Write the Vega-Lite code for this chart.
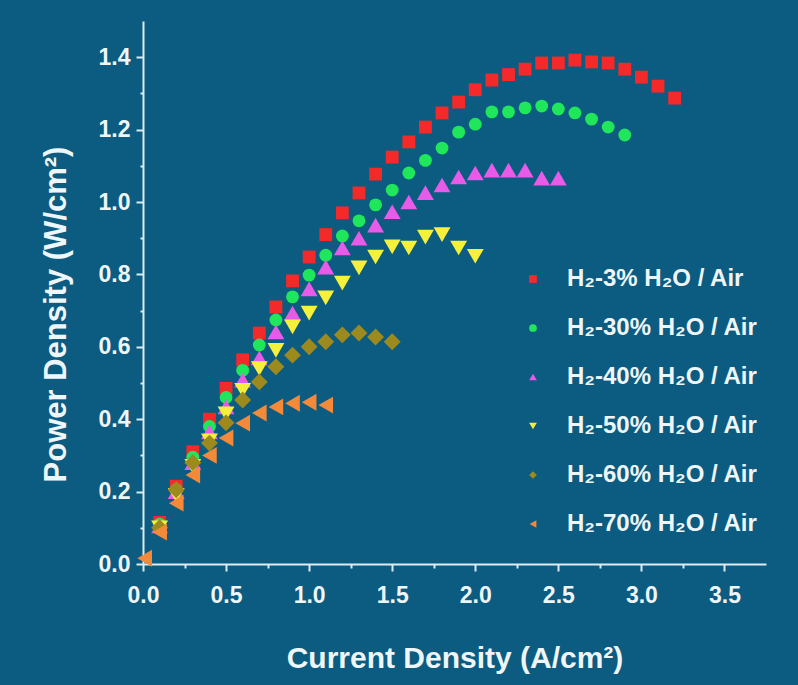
{
  "$schema": "https://vega.github.io/schema/vega-lite/v6.json",
  "width": 623,
  "height": 543,
  "autosize": {"type": "none"},
  "padding": {"left": 143, "top": 21, "right": 32, "bottom": 121},
  "background": "#0c5b80",
  "config": {
    "view": {"stroke": null},
    "font": "Liberation Sans, Arial, sans-serif",
    "axis": {
      "grid": false,
      "domainColor": "#dcecf3",
      "domainWidth": 2,
      "tickColor": "#dcecf3",
      "tickWidth": 2,
      "labelColor": "#eef6fa",
      "labelFont": "Liberation Sans, Arial, sans-serif",
      "labelFontWeight": "bold",
      "labelFontSize": 23,
      "titleColor": "#eef6fa",
      "titleFont": "Liberation Sans, Arial, sans-serif",
      "titleFontWeight": "bold",
      "titleFontSize": 30
    },
    "legend": {
      "labelColor": "#eef6fa",
      "labelFont": "Liberation Sans, Arial, sans-serif",
      "labelFontWeight": "bold",
      "labelFontSize": 24,
      "labelLimit": 0
    }
  },
  "datasets": {
    "pd": [
      {"series": "H₂-3% H₂O / Air", "j": 0.1, "p": 0.115},
      {"series": "H₂-3% H₂O / Air", "j": 0.2, "p": 0.215},
      {"series": "H₂-3% H₂O / Air", "j": 0.3, "p": 0.31},
      {"series": "H₂-3% H₂O / Air", "j": 0.4, "p": 0.4},
      {"series": "H₂-3% H₂O / Air", "j": 0.5, "p": 0.485},
      {"series": "H₂-3% H₂O / Air", "j": 0.6, "p": 0.564},
      {"series": "H₂-3% H₂O / Air", "j": 0.7, "p": 0.638},
      {"series": "H₂-3% H₂O / Air", "j": 0.8, "p": 0.71},
      {"series": "H₂-3% H₂O / Air", "j": 0.9, "p": 0.782},
      {"series": "H₂-3% H₂O / Air", "j": 1.0, "p": 0.848},
      {"series": "H₂-3% H₂O / Air", "j": 1.1, "p": 0.91},
      {"series": "H₂-3% H₂O / Air", "j": 1.2, "p": 0.97},
      {"series": "H₂-3% H₂O / Air", "j": 1.3, "p": 1.025},
      {"series": "H₂-3% H₂O / Air", "j": 1.4, "p": 1.077},
      {"series": "H₂-3% H₂O / Air", "j": 1.5, "p": 1.124},
      {"series": "H₂-3% H₂O / Air", "j": 1.6, "p": 1.166},
      {"series": "H₂-3% H₂O / Air", "j": 1.7, "p": 1.207},
      {"series": "H₂-3% H₂O / Air", "j": 1.8, "p": 1.246},
      {"series": "H₂-3% H₂O / Air", "j": 1.9, "p": 1.276},
      {"series": "H₂-3% H₂O / Air", "j": 2.0, "p": 1.31},
      {"series": "H₂-3% H₂O / Air", "j": 2.1, "p": 1.337},
      {"series": "H₂-3% H₂O / Air", "j": 2.2, "p": 1.352},
      {"series": "H₂-3% H₂O / Air", "j": 2.3, "p": 1.367},
      {"series": "H₂-3% H₂O / Air", "j": 2.4, "p": 1.384},
      {"series": "H₂-3% H₂O / Air", "j": 2.5, "p": 1.384},
      {"series": "H₂-3% H₂O / Air", "j": 2.6, "p": 1.392},
      {"series": "H₂-3% H₂O / Air", "j": 2.7, "p": 1.387},
      {"series": "H₂-3% H₂O / Air", "j": 2.8, "p": 1.384},
      {"series": "H₂-3% H₂O / Air", "j": 2.9, "p": 1.367},
      {"series": "H₂-3% H₂O / Air", "j": 3.0, "p": 1.345},
      {"series": "H₂-3% H₂O / Air", "j": 3.1, "p": 1.32},
      {"series": "H₂-3% H₂O / Air", "j": 3.2, "p": 1.287},
      {"series": "H₂-30% H₂O / Air", "j": 0.1, "p": 0.11},
      {"series": "H₂-30% H₂O / Air", "j": 0.2, "p": 0.205},
      {"series": "H₂-30% H₂O / Air", "j": 0.3, "p": 0.295},
      {"series": "H₂-30% H₂O / Air", "j": 0.4, "p": 0.38},
      {"series": "H₂-30% H₂O / Air", "j": 0.5, "p": 0.46},
      {"series": "H₂-30% H₂O / Air", "j": 0.6, "p": 0.535},
      {"series": "H₂-30% H₂O / Air", "j": 0.7, "p": 0.605},
      {"series": "H₂-30% H₂O / Air", "j": 0.8, "p": 0.674},
      {"series": "H₂-30% H₂O / Air", "j": 0.9, "p": 0.738},
      {"series": "H₂-30% H₂O / Air", "j": 1.0, "p": 0.798},
      {"series": "H₂-30% H₂O / Air", "j": 1.1, "p": 0.853},
      {"series": "H₂-30% H₂O / Air", "j": 1.2, "p": 0.906},
      {"series": "H₂-30% H₂O / Air", "j": 1.3, "p": 0.948},
      {"series": "H₂-30% H₂O / Air", "j": 1.4, "p": 0.992},
      {"series": "H₂-30% H₂O / Air", "j": 1.5, "p": 1.033},
      {"series": "H₂-30% H₂O / Air", "j": 1.6, "p": 1.08},
      {"series": "H₂-30% H₂O / Air", "j": 1.7, "p": 1.115},
      {"series": "H₂-30% H₂O / Air", "j": 1.8, "p": 1.149},
      {"series": "H₂-30% H₂O / Air", "j": 1.9, "p": 1.193},
      {"series": "H₂-30% H₂O / Air", "j": 2.0, "p": 1.215},
      {"series": "H₂-30% H₂O / Air", "j": 2.1, "p": 1.249},
      {"series": "H₂-30% H₂O / Air", "j": 2.2, "p": 1.249},
      {"series": "H₂-30% H₂O / Air", "j": 2.3, "p": 1.26},
      {"series": "H₂-30% H₂O / Air", "j": 2.4, "p": 1.265},
      {"series": "H₂-30% H₂O / Air", "j": 2.5, "p": 1.257},
      {"series": "H₂-30% H₂O / Air", "j": 2.6, "p": 1.246},
      {"series": "H₂-30% H₂O / Air", "j": 2.7, "p": 1.229},
      {"series": "H₂-30% H₂O / Air", "j": 2.8, "p": 1.207},
      {"series": "H₂-30% H₂O / Air", "j": 2.9, "p": 1.185},
      {"series": "H₂-40% H₂O / Air", "j": 0.1, "p": 0.105},
      {"series": "H₂-40% H₂O / Air", "j": 0.2, "p": 0.2},
      {"series": "H₂-40% H₂O / Air", "j": 0.3, "p": 0.28},
      {"series": "H₂-40% H₂O / Air", "j": 0.4, "p": 0.365},
      {"series": "H₂-40% H₂O / Air", "j": 0.5, "p": 0.434},
      {"series": "H₂-40% H₂O / Air", "j": 0.6, "p": 0.508},
      {"series": "H₂-40% H₂O / Air", "j": 0.7, "p": 0.569},
      {"series": "H₂-40% H₂O / Air", "j": 0.8, "p": 0.641},
      {"series": "H₂-40% H₂O / Air", "j": 0.9, "p": 0.693},
      {"series": "H₂-40% H₂O / Air", "j": 1.0, "p": 0.76},
      {"series": "H₂-40% H₂O / Air", "j": 1.1, "p": 0.82},
      {"series": "H₂-40% H₂O / Air", "j": 1.2, "p": 0.873},
      {"series": "H₂-40% H₂O / Air", "j": 1.3, "p": 0.9},
      {"series": "H₂-40% H₂O / Air", "j": 1.4, "p": 0.936},
      {"series": "H₂-40% H₂O / Air", "j": 1.5, "p": 0.973},
      {"series": "H₂-40% H₂O / Air", "j": 1.6, "p": 1.0},
      {"series": "H₂-40% H₂O / Air", "j": 1.7, "p": 1.026},
      {"series": "H₂-40% H₂O / Air", "j": 1.8, "p": 1.047},
      {"series": "H₂-40% H₂O / Air", "j": 1.9, "p": 1.069},
      {"series": "H₂-40% H₂O / Air", "j": 2.0, "p": 1.08},
      {"series": "H₂-40% H₂O / Air", "j": 2.1, "p": 1.088},
      {"series": "H₂-40% H₂O / Air", "j": 2.2, "p": 1.088},
      {"series": "H₂-40% H₂O / Air", "j": 2.3, "p": 1.088},
      {"series": "H₂-40% H₂O / Air", "j": 2.4, "p": 1.066},
      {"series": "H₂-40% H₂O / Air", "j": 2.5, "p": 1.066},
      {"series": "H₂-50% H₂O / Air", "j": 0.1, "p": 0.1},
      {"series": "H₂-50% H₂O / Air", "j": 0.2, "p": 0.19},
      {"series": "H₂-50% H₂O / Air", "j": 0.3, "p": 0.27},
      {"series": "H₂-50% H₂O / Air", "j": 0.4, "p": 0.34},
      {"series": "H₂-50% H₂O / Air", "j": 0.5, "p": 0.415},
      {"series": "H₂-50% H₂O / Air", "j": 0.6, "p": 0.48},
      {"series": "H₂-50% H₂O / Air", "j": 0.7, "p": 0.54},
      {"series": "H₂-50% H₂O / Air", "j": 0.8, "p": 0.59},
      {"series": "H₂-50% H₂O / Air", "j": 0.9, "p": 0.655},
      {"series": "H₂-50% H₂O / Air", "j": 1.0, "p": 0.693},
      {"series": "H₂-50% H₂O / Air", "j": 1.1, "p": 0.735},
      {"series": "H₂-50% H₂O / Air", "j": 1.2, "p": 0.776},
      {"series": "H₂-50% H₂O / Air", "j": 1.3, "p": 0.818},
      {"series": "H₂-50% H₂O / Air", "j": 1.4, "p": 0.848},
      {"series": "H₂-50% H₂O / Air", "j": 1.5, "p": 0.876},
      {"series": "H₂-50% H₂O / Air", "j": 1.6, "p": 0.873},
      {"series": "H₂-50% H₂O / Air", "j": 1.7, "p": 0.903},
      {"series": "H₂-50% H₂O / Air", "j": 1.8, "p": 0.91},
      {"series": "H₂-50% H₂O / Air", "j": 1.9, "p": 0.873},
      {"series": "H₂-50% H₂O / Air", "j": 2.0, "p": 0.85},
      {"series": "H₂-60% H₂O / Air", "j": 0.1, "p": 0.1},
      {"series": "H₂-60% H₂O / Air", "j": 0.2, "p": 0.205},
      {"series": "H₂-60% H₂O / Air", "j": 0.3, "p": 0.28},
      {"series": "H₂-60% H₂O / Air", "j": 0.4, "p": 0.334},
      {"series": "H₂-60% H₂O / Air", "j": 0.5, "p": 0.39},
      {"series": "H₂-60% H₂O / Air", "j": 0.6, "p": 0.453},
      {"series": "H₂-60% H₂O / Air", "j": 0.7, "p": 0.503},
      {"series": "H₂-60% H₂O / Air", "j": 0.8, "p": 0.545},
      {"series": "H₂-60% H₂O / Air", "j": 0.9, "p": 0.577},
      {"series": "H₂-60% H₂O / Air", "j": 1.0, "p": 0.6},
      {"series": "H₂-60% H₂O / Air", "j": 1.1, "p": 0.614},
      {"series": "H₂-60% H₂O / Air", "j": 1.2, "p": 0.633},
      {"series": "H₂-60% H₂O / Air", "j": 1.3, "p": 0.638},
      {"series": "H₂-60% H₂O / Air", "j": 1.4, "p": 0.627},
      {"series": "H₂-60% H₂O / Air", "j": 1.5, "p": 0.614},
      {"series": "H₂-70% H₂O / Air", "j": 0.01, "p": 0.016},
      {"series": "H₂-70% H₂O / Air", "j": 0.1, "p": 0.088},
      {"series": "H₂-70% H₂O / Air", "j": 0.2, "p": 0.168},
      {"series": "H₂-70% H₂O / Air", "j": 0.3, "p": 0.246},
      {"series": "H₂-70% H₂O / Air", "j": 0.4, "p": 0.3},
      {"series": "H₂-70% H₂O / Air", "j": 0.5, "p": 0.348},
      {"series": "H₂-70% H₂O / Air", "j": 0.6, "p": 0.389},
      {"series": "H₂-70% H₂O / Air", "j": 0.7, "p": 0.417},
      {"series": "H₂-70% H₂O / Air", "j": 0.8, "p": 0.434},
      {"series": "H₂-70% H₂O / Air", "j": 0.9, "p": 0.444},
      {"series": "H₂-70% H₂O / Air", "j": 1.0, "p": 0.447},
      {"series": "H₂-70% H₂O / Air", "j": 1.1, "p": 0.439}
    ]
  },
  "data": {"name": "pd"},
  "encoding": {
    "x": {
      "field": "j",
      "type": "quantitative",
      "scale": {"domain": [0, 3.75], "nice": false, "zero": false},
      "axis": {
        "values": [0, 0.25, 0.5, 0.75, 1, 1.25, 1.5, 1.75, 2, 2.25, 2.5, 2.75, 3, 3.25, 3.5],
        "format": ".1f",
        "labelExpr": "abs(datum.value * 2 - round(datum.value * 2)) < 0.001 ? datum.label : ''",
        "tickSize": {"condition": {"test": "abs(datum.value * 2 - round(datum.value * 2)) < 0.001", "value": 7}, "value": 4},
        "labelPadding": 13,
        "labelFlush": false,
        "labelOverlap": false,
        "title": "Current Density (A/cm²)",
        "titlePadding": 36
      }
    },
    "y": {
      "field": "p",
      "type": "quantitative",
      "scale": {"domain": [0, 1.5], "nice": false},
      "axis": {
        "values": [0, 0.1, 0.2, 0.3, 0.4, 0.5, 0.6, 0.7, 0.8, 0.9, 1.0, 1.1, 1.2, 1.3, 1.4],
        "format": ".1f",
        "labelExpr": "round(datum.value * 10) % 2 === 0 ? datum.label : ''",
        "tickSize": {"condition": {"test": "round(datum.value * 10) % 2 === 0", "value": 7}, "value": 3},
        "labelPadding": 6,
        "labelFlush": false,
        "labelOverlap": false,
        "title": "Power Density (W/cm²)",
        "titleFontSize": 31,
        "titleX": -87,
        "titleY": 293,
        "titleAngle": -90,
        "titleAlign": "center",
        "titleBaseline": "middle"
      }
    },
    "color": {
      "field": "series",
      "type": "nominal",
      "sort": null,
      "scale": {
        "domain": ["H₂-3% H₂O / Air", "H₂-30% H₂O / Air", "H₂-40% H₂O / Air", "H₂-50% H₂O / Air", "H₂-60% H₂O / Air", "H₂-70% H₂O / Air"],
        "range": ["#f42a2a", "#1fe65a", "#e85ae8", "#f5f03c", "#9c8a1e", "#f28a3a"]
      },
      "legend": {
        "title": null,
        "orient": "none",
        "legendX": 378,
        "legendY": 246,
        "padding": 0,
        "symbolSize": 60,
        "labelOffset": 22,
        "rowPadding": 25
      }
    },
    "shape": {
      "field": "series",
      "type": "nominal",
      "sort": null,
      "scale": {
        "domain": ["H₂-3% H₂O / Air", "H₂-30% H₂O / Air", "H₂-40% H₂O / Air", "H₂-50% H₂O / Air", "H₂-60% H₂O / Air", "H₂-70% H₂O / Air"],
        "range": ["square", "circle", "triangle-up", "triangle-down", "diamond", "triangle-left"]
      },
      "legend": {
        "title": null,
        "orient": "none",
        "legendX": 378,
        "legendY": 246,
        "padding": 0,
        "symbolSize": 60,
        "labelOffset": 22,
        "rowPadding": 25
      }
    }
  },
  "layer": [
    {
      "transform": [{"filter": "indexof(['H₂-3% H₂O / Air', 'H₂-30% H₂O / Air'], datum.series) >= 0"}],
      "mark": {"type": "point", "filled": true, "opacity": 1, "size": 165}
    },
    {
      "transform": [{"filter": "indexof(['H₂-3% H₂O / Air', 'H₂-30% H₂O / Air'], datum.series) < 0"}],
      "mark": {"type": "point", "filled": true, "opacity": 1, "size": 285}
    },
    {
      "data": {"values": [{}]},
      "mark": {"type": "text", "align": "left", "baseline": "alphabetic", "fontSize": 23, "fontWeight": "bold", "color": "#eef6fa", "font": "Liberation Sans, Arial, sans-serif"},
      "encoding": {
        "x": {"datum": 0.32, "type": "quantitative"},
        "y": {"datum": 1.395, "type": "quantitative"},
        "text": {"value": "Temperature: 800°C"},
        "color": {"value": "#eef6fa"},
        "shape": {"value": "circle"}
      }
    }
  ]
}
